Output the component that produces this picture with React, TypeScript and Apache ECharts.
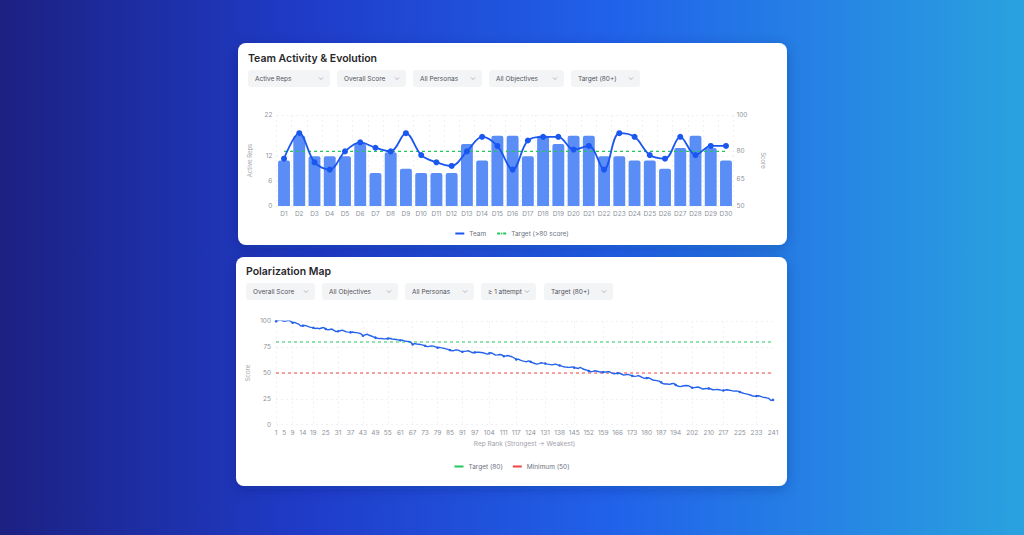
import React, { useEffect, useRef } from "react";
import * as echarts from "echarts";

// ---- Team Activity & Evolution ----
const days = Array.from({ length: 30 }, (_, i) => `D${i + 1}`);
const activeReps = [11, 17, 12, 12, 12, 15, 8, 13, 9, 8, 8, 8, 15, 11, 17, 17, 12, 17, 15, 17, 17, 12, 12, 11, 11, 9, 14, 17, 14, 11];
const teamScore = [76, 90, 74, 70, 80, 85, 82, 80, 90, 78, 74, 72, 80, 88, 83, 70, 86, 88, 88, 81, 83, 70, 90, 88, 78, 76, 88, 78, 83, 83];
const teamTarget = 80;
const repsTicks = [0, 6, 12, 22];
const scoreTicks = [50, 65, 80, 100];
const topFilters = ["Active Reps", "Overall Score", "All Personas", "All Objectives", "Target (80+)"];

// ---- Polarization Map ----
const repScores = [
  100, 100.8, 101.5, 100.6, 100.1, 100.4, 101, 100.2, 98.6, 98.9,
  98, 97.2, 95.5, 95.8, 96, 95.3, 94.6, 94.1, 93.8, 93,
  93.4, 92.8, 93.5, 94, 92.6, 91.7, 92.1, 92.5, 91.2, 90,
  90.4, 90.9, 91.5, 90.6, 89.8, 89.5, 89.3, 89.6, 89.1, 89,
  88.6, 88, 86, 86.8, 87.5, 86.5, 85.8, 85, 84.2, 83.6,
  83.2, 83.4, 83, 83.1, 83.3, 83.6, 82.9, 82.7, 82.4, 82,
  81.6, 81.8, 81, 80.7, 80.5, 80, 77.6, 78.4, 78, 77.8,
  77.4, 77, 76.3, 75.5, 75.8, 76.1, 76, 75.3, 74.5, 74.8,
  74.3, 74, 73.4, 72.8, 72.2, 71.5, 71.8, 72.3, 72.1, 71.2,
  70.5, 70.9, 71.2, 71.5, 70.4, 69.6, 69.9, 70.2, 70, 69.8,
  69.6, 69, 68.3, 69, 69.6, 68.4, 67.3, 67.5, 67.9, 67.6,
  66.3, 66.5, 66.9, 66.2, 65.7, 64.5, 63.1, 63.4, 62.5, 61.8,
  61.2, 60.9, 61.8, 60.8, 59.9, 59.2, 58.6, 59.1, 59.9, 59.5,
  59.2, 58.6, 58.3, 57.9, 58.2, 58.6, 57.8, 57.3, 56.6, 56,
  55.7, 55.5, 55.4, 56, 55.2, 54.8, 54.4, 55.4, 54.1, 53.4,
  52.8, 52, 51.2, 51.6, 52.2, 51.7, 51.2, 51, 50.8, 50.9,
  51.2, 51.2, 50.2, 49.3, 49.5, 49.8, 49.6, 48.8, 48, 48.4,
  48.7, 48, 47.3, 46.7, 47, 47.4, 46.6, 45.5, 44.8, 45.1,
  45.4, 44.3, 43.2, 42.9, 42.6, 42.2, 41, 39.6, 39.3, 39.4,
  39, 39.6, 40, 38.5, 37.4, 36.8, 37.2, 37.7, 37.9, 37.7,
  36.8, 35.7, 35.9, 36.2, 36.4, 35.5, 34.5, 34.8, 35, 35.1,
  34.5, 33.8, 33.9, 34, 33.8, 33.4, 33.1, 33.5, 33.8, 33.3,
  32.9, 32.5, 32.6, 32.5, 31.6, 30.9, 30.3, 29.8, 29.3, 28.7,
  28, 27.4, 27.7, 28, 27.4, 26.7, 26.3, 25.9, 25.4, 23.5,
  24,
];
const ranks = repScores.map((_, i) => String(i + 1));
const rankLabels = [1, 5, 9, 14, 19, 25, 31, 37, 43, 49, 55, 61, 67, 73, 79, 85, 91, 97, 104, 111, 117, 124, 131, 138, 145, 152, 159, 166, 173, 180, 187, 194, 202, 210, 217, 225, 233, 241];
const targetScore = 80;
const minimumScore = 50;
const bottomFilters = ["Overall Score", "All Objectives", "All Personas", "≥ 1 attempt", "Target (80+)"];

// ---- layout ----
const FONT = 'Inter, "Noto Sans", "DejaVu Sans", sans-serif';
const topFilterLayout = [
  { x: 248, w: 82 }, { x: 337, w: 69 }, { x: 413, w: 69 }, { x: 489, w: 75 }, { x: 571, w: 69 },
];
const bottomFilterLayout = [
  { x: 246, w: 69 }, { x: 322, w: 76 }, { x: 405, w: 69 }, { x: 481, w: 55 }, { x: 544, w: 69 },
];

function dropdowns(labels: string[], layout: { x: number; w: number }[], y: number) {
  const out: any[] = [];
  labels.forEach((label, i) => {
    const { x, w } = layout[i];
    out.push({
      type: "rect", z: -8, shape: { x, y, width: w, height: 17, r: 3 },
      style: { fill: "#f3f4f6" }, silent: true,
    });
    out.push({
      type: "text", z: -7, x: x + 7, y: y + 8.5,
      style: { text: label, font: `400 6.5px ${FONT}`, fill: "#52525b", verticalAlign: "middle", align: "left" },
      silent: true,
    });
    out.push({
      type: "polyline", z: -7,
      shape: { points: [[x + w - 11, y + 7.5], [x + w - 9, y + 9.5], [x + w - 7, y + 7.5]] },
      style: { stroke: "#a1a1aa", lineWidth: 0.8, fill: null }, silent: true,
    });
  });
  return out;
}

const tickFont = { fontSize: 6.5, color: "#8e939b", fontFamily: FONT };
const nameFont = { fontSize: 6, color: "#a1a1aa", fontFamily: FONT };
const gridLine = { show: true, lineStyle: { color: "#eceef1", type: [2, 3] as any, width: 0.8 } };

export default function App() {
  const ref = useRef<HTMLDivElement>(null);

  useEffect(() => {
    document.body.style.margin = "0";
    const chart = echarts.init(ref.current!, null, { renderer: "svg" });

    const option: any = {
      animation: false,
      textStyle: { fontFamily: FONT },
      graphic: [
        {
          type: "rect", z: -20, shape: { x: 0, y: 0, width: 1024, height: 535 },
          style: {
            fill: new echarts.graphic.LinearGradient(0, 0, 1, 0, [
              { offset: 0, color: "#1c2182" },
              { offset: 0.3, color: "#1f3cc9" },
              { offset: 0.6, color: "#2162ea" },
              { offset: 1, color: "#2aa2df" },
            ]),
          },
          silent: true,
        },
        {
          type: "rect", z: -10, shape: { x: 238, y: 43, width: 549, height: 202, r: 8 },
          style: { fill: "#ffffff", shadowBlur: 14, shadowColor: "rgba(10,20,80,0.25)", shadowOffsetY: 3 },
          silent: true,
        },
        {
          type: "rect", z: -10, shape: { x: 236, y: 257, width: 551, height: 229, r: 8 },
          style: { fill: "#ffffff", shadowBlur: 14, shadowColor: "rgba(10,20,80,0.25)", shadowOffsetY: 3 },
          silent: true,
        },
        {
          type: "text", z: -7, x: 248, y: 58,
          style: { text: "Team Activity & Evolution", font: `600 10.5px ${FONT}`, fill: "#27272a", verticalAlign: "middle" },
          silent: true,
        },
        {
          type: "text", z: -7, x: 246, y: 271,
          style: { text: "Polarization Map", font: `600 10.5px ${FONT}`, fill: "#27272a", verticalAlign: "middle" },
          silent: true,
        },
        ...dropdowns(topFilters, topFilterLayout, 70),
        ...dropdowns(bottomFilters, bottomFilterLayout, 283),
      ],
      grid: [
        { left: 276.4, top: 115, width: 457.2, height: 91, outerBoundsMode: "none" },
        { left: 276, top: 321.3, width: 497, height: 103.4, outerBoundsMode: "none" },
      ],
      xAxis: [
        {
          type: "category", gridIndex: 0, data: days,
          axisLine: { show: false }, axisTick: { show: false },
          axisLabel: { ...tickFont, interval: 0, margin: 4 },
          splitLine: gridLine,
        },
        {
          type: "category", gridIndex: 1, data: ranks, boundaryGap: false,
          axisLine: { show: false },
          axisTick: { show: false, interval: (_i: number, v: string) => rankLabels.includes(Number(v)) },
          axisLabel: { ...tickFont, margin: 5, interval: (_i: number, v: string) => rankLabels.includes(Number(v)) },
          splitLine: {
            ...gridLine,
            interval: (_i: number, v: string) => rankLabels.indexOf(Number(v)) % 2 === 0,
          },
          name: "Rep Rank (Strongest → Weakest)", nameLocation: "middle", nameGap: 16,
          nameTextStyle: { ...nameFont, fontSize: 6.5 },
        },
      ],
      yAxis: [
        {
          type: "value", gridIndex: 0, min: 0, max: 22,
          axisLine: { show: false },
          axisTick: { show: false, customValues: repsTicks },
          axisLabel: { ...tickFont, margin: 4, customValues: repsTicks },
          splitLine: gridLine,
          name: "Active Reps", nameLocation: "middle", nameGap: 24, nameRotate: 90, nameTextStyle: nameFont,
        },
        {
          type: "value", gridIndex: 0, position: "right", min: 50, max: 100,
          axisLine: { show: false },
          axisTick: { show: false, customValues: scoreTicks },
          axisLabel: { ...tickFont, margin: 3, customValues: scoreTicks },
          splitLine: { show: false },
          name: "Score", nameLocation: "middle", nameGap: 27, nameRotate: -90, nameTextStyle: nameFont,
        },
        {
          type: "value", gridIndex: 1, min: 0, max: 100, interval: 25,
          axisLine: { show: false }, axisTick: { show: false },
          axisLabel: { ...tickFont, margin: 5 },
          splitLine: gridLine,
          name: "Score", nameLocation: "middle", nameGap: 26, nameRotate: 90, nameTextStyle: nameFont,
        },
      ],
      legend: [
        {
          top: 225, left: "center", itemWidth: 9, itemHeight: 2, itemGap: 10,
          textStyle: { fontSize: 6.5, color: "#6b7280", fontFamily: FONT },
          data: [{ name: "Team", icon: "rect" }, { name: "Target (>80 score)" }],
        },
        {
          top: 458, left: "center", itemWidth: 9, itemHeight: 2, itemGap: 10,
          textStyle: { fontSize: 6.5, color: "#6b7280", fontFamily: FONT },
          data: [{ name: "Target (80)", icon: "rect" }, { name: "Minimum (50)", icon: "rect" }],
        },
      ],
      series: [
        {
          name: "Active Reps", type: "bar", xAxisIndex: 0, yAxisIndex: 0, data: activeReps,
          barCategoryGap: "22%", itemStyle: { color: "#5a8df5", borderRadius: [2, 2, 0, 0] },
        },
        {
          name: "Team", type: "line", xAxisIndex: 0, yAxisIndex: 1, data: teamScore, smooth: 0.35,
          symbol: "circle", symbolSize: 6, color: "#1a56f0",
          lineStyle: { width: 1.8, color: "#1a56f0" }, itemStyle: { color: "#1a56f0" }, z: 4,
        },
        {
          name: "Target (>80 score)", type: "line", xAxisIndex: 0, yAxisIndex: 1,
          data: days.map(() => teamTarget), symbol: "none", color: "#22c55e",
          lineStyle: { width: 1.2, type: [3, 3], color: "#22c55e" }, z: 3,
        },
        {
          name: "Score", type: "line", xAxisIndex: 1, yAxisIndex: 2, data: repScores,
          symbol: "circle", symbolSize: 2.5, showSymbol: true, color: "#2563eb",
          lineStyle: { width: 1.4, color: "#2563eb" }, itemStyle: { color: "#2563eb" }, z: 4,
        },
        {
          name: "Target (80)", type: "line", xAxisIndex: 1, yAxisIndex: 2,
          data: ranks.map(() => targetScore), symbol: "none", color: "#22c55e",
          lineStyle: { width: 1.2, type: [3, 3], color: "#22c55e" }, z: 3,
        },
        {
          name: "Minimum (50)", type: "line", xAxisIndex: 1, yAxisIndex: 2,
          data: ranks.map(() => minimumScore), symbol: "none", color: "#ef4444",
          lineStyle: { width: 1.2, type: [3, 3], color: "#ef4444" }, z: 3,
        },
      ],
    };

    chart.setOption(option);
    return () => chart.dispose();
  }, []);

  return <div ref={ref} style={{ width: 1024, height: 535 }} />;
}
